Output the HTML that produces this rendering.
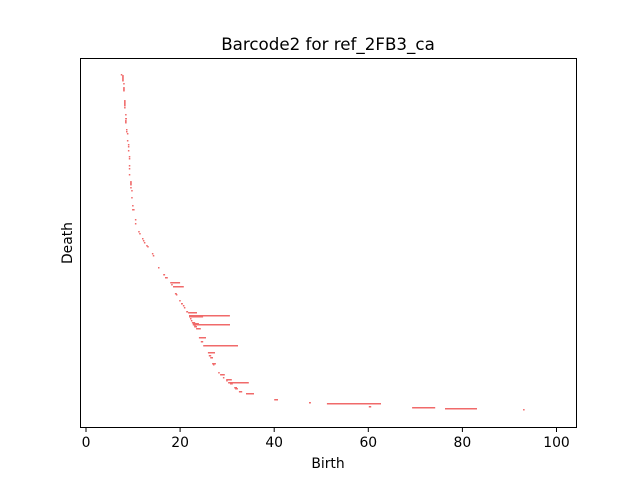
<!DOCTYPE html>
<html><head><meta charset="utf-8"><style>
body{margin:0;background:#fff}
svg{display:block;font-family:"DejaVu Sans","Liberation Sans",sans-serif}
</style></head><body>
<svg id="chart" width="640" height="480">
<rect width="640" height="480" fill="#fff"/>
<text x="328" y="50" font-size="16.7" text-anchor="middle">Barcode2 for ref_2FB3_ca</text>
<g id="bars"></g>
<rect x="80.5" y="58.5" width="496" height="369" fill="none" stroke="#000" stroke-width="1"/>
<g id="xticks"></g>
<text x="328" y="468" font-size="13.9" text-anchor="middle">Birth</text>
<text x="72" y="243" font-size="13.9" text-anchor="middle" transform="rotate(-90 72 243)">Death</text>
</svg>
<script>
const births=[7.4,7.7,7.7,7.7,7.7,7.7,7.7,7.9,7.9,7.9,7.9,7.9,8.1,8.1,8.1,8.1,8.1,8.1,8.1,8.3,8.3,8.3,8.3,8.3,8.5,8.5,8.7,8.7,8.9,8.9,8.9,9.1,9.1,9.1,9.1,9.1,9.4,9.4,9.4,9.4,9.4,9.6,9.6,9.8,10.0,9.8,10.4,10.4,11.1,11.3,11.9,12.1,12.3,12.8,13.0,14.0,14.2,
15.3,16.4,16.8,17.9,18.1,18.5,18.9,19.1,19.8,20.2,20.6,20.8,21.3,21.7,21.9,21.9,22.1,22.3,22.5,22.7,22.7,23.0,23.0,23.4,24.0,24.4,24.9,25.9,26.1,26.4,26.8,27.0,28.1,28.5,29.1,29.8,29.8,30.2,30.6,31.5,31.7,32.5,34.0,
40.0,47.4,51.2,60.1,69.3,76.3,92.9];
const deaths=[7.4,7.7,7.7,7.7,7.7,7.7,7.7,7.9,7.9,7.9,7.9,7.9,8.1,8.1,8.1,8.1,8.1,8.1,8.1,8.3,8.7,8.3,8.3,8.3,8.7,8.5,8.7,8.7,8.9,9.1,8.9,9.1,9.4,9.1,9.1,9.1,9.4,9.4,9.4,9.4,9.4,9.8,9.8,9.8,10.0,9.8,10.6,10.6,11.1,11.3,11.9,12.3,12.5,13.0,13.0,14.2,14.2,
15.3,16.8,17.4,20.0,18.1,20.8,19.3,19.1,19.8,20.6,20.6,20.8,21.7,23.6,30.6,24.9,22.1,22.3,23.2,24.0,30.6,23.0,23.6,24.4,25.5,24.9,32.3,27.4,26.6,27.0,27.6,27.0,28.1,29.5,29.1,31.0,29.8,34.6,31.2,32.1,32.3,33.2,35.7,
40.8,47.8,62.7,60.6,74.2,83.1,92.9];
const levels=[1,2,3,4,5,6,7,10,14,15,16,17,27,28,29,30,31,32,34,41,45,47,48,49,56,58,60,67,71,73,77,83,85,92,95,101,108,109,110,111,114,117,124,132,136,136,146,150,158,160,165,167,169,172,173,180,182,
194,201,204,209,211,213,220,221,227,230,232,234,238,239,242,243,245,247,249,250,251,252,253,255,264,268,272,279,282,284,290,291,299,301,304,306,307,309,310,314,315,318,320,
326,329,330,333,334,335,336];
const xTicks=[0,20,40,60,80,100];
const NS='http://www.w3.org/2000/svg';
const x=v=>86+v*4.705;
const y=l=>73+l;
const g=document.getElementById('bars');
births.forEach((b,i)=>{
  const r=document.createElementNS(NS,'rect');
  const x0=x(b),x1=x(deaths[i]);
  r.setAttribute('x',x0.toFixed(1));
  r.setAttribute('y',y(levels[i]));
  r.setAttribute('width',Math.max(1.5,x1-x0).toFixed(1));
  r.setAttribute('height',1.5);
  r.setAttribute('fill','#f06a6a');
  
  
  g.appendChild(r);
});
const xt=document.getElementById('xticks');
xTicks.forEach(t=>{
  const px=x(t);
  const l=document.createElementNS(NS,'line');
  l.setAttribute('x1',px);l.setAttribute('x2',px);
  l.setAttribute('y1',427);l.setAttribute('y2',432);
  l.setAttribute('stroke','#000');
  
  
  xt.appendChild(l);
  const tx=document.createElementNS(NS,'text');
  tx.setAttribute('x',px);tx.setAttribute('y',447);
  tx.setAttribute('font-size','13.9');tx.setAttribute('text-anchor','middle');
  tx.textContent=t;
  
  
  xt.appendChild(tx);
});
</script>
</body></html>
